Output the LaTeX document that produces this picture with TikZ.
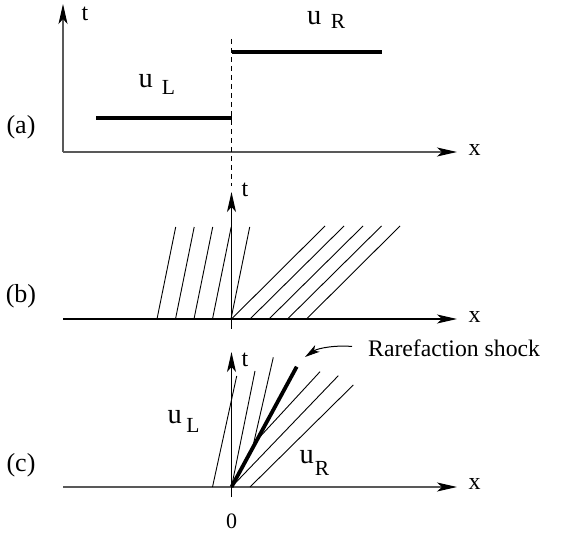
\documentclass[tikz,border=0pt]{standalone}
\usepackage{fontspec}
\setmainfont{Liberation Serif}
\usetikzlibrary{arrows.meta}
\newcommand{\ufnt}{\fontsize{28.5}{30}\selectfont}
\newcommand{\subfnt}{\fontsize{21.5}{23}\selectfont}
\newcommand{\labfnt}{\fontsize{26}{28}\selectfont}
\newcommand{\axfnt}{\fontsize{24}{26}\selectfont}
\begin{document}
\begin{tikzpicture}[x=1pt,y=-1pt,
  axis/.style={line width=1.2pt,-{Stealth[length=20pt,width=9pt,inset=5pt]}},
  grayaxis/.style={line width=1.2pt,draw=black!65,-{Stealth[length=20pt,width=9pt,inset=5pt,color=black]}},
  thickstate/.style={line width=4pt},
  charline/.style={line width=0.9pt},
  shockline/.style={line width=3.8pt},
  panellab/.style={inner sep=0pt,font=\labfnt},
  axlab/.style={inner sep=0pt,font=\axfnt},
  ulab/.style={inner sep=0pt,anchor=base west}]
\useasboundingbox (0,0) rectangle (570,534);
% ---------- panel (a)
\coordinate (oa) at (63,152);
\coordinate (ta) at (63,4);
\coordinate (xa) at (457,152);
\draw[grayaxis] (oa) -- (ta);
\draw[grayaxis] (oa) -- (xa);
\node[axlab] (tlaba) at (85,14) {t};
\node[axlab] (xlaba) at (474.5,150) {x};
\coordinate (dtop) at (231,39);
\coordinate (dbot) at (231,186);
\draw[line width=0.9pt,dash pattern=on 5pt off 4pt] (dtop) -- (dbot);
\coordinate (ul1) at (96,118);
\coordinate (ul2) at (231.5,118);
\coordinate (ur1) at (231.5,52);
\coordinate (ur2) at (381.5,52);
\draw[thickstate] (ul1) -- (ul2);
\draw[thickstate] (ur1) -- (ur2);
\node[ulab] (uRa) at (307,25) {\ufnt u\hspace{9.5pt}\raisebox{-4pt}{\subfnt R}};
\node[ulab] (uLa) at (138.5,87.3) {\ufnt u\hspace{9pt}\raisebox{-7.5pt}{\subfnt L}};
\node[panellab] (pa) at (21,127) {(a)};
% ---------- panel (b)
\coordinate (ob) at (231.5,319);
\coordinate (bl) at (63,319);
\coordinate (xb) at (457,319);
\coordinate (tb) at (231.5,192);
\coordinate (tbb) at (231.5,329);
\draw[axis] (bl) -- (xb);
\draw[axis] (tbb) -- (tb);
\node[axlab] (tlabb) at (245,190) {t};
\node[axlab] (xlabb) at (474.5,317) {x};
\foreach \xb in {157,175.5,194,212.5,231}
  \draw[charline] (\xb,319) -- ({\xb+18.7},227);
\foreach \xb/\xt in {231.5/325,250/344,269/363,287.5/381.5,306.5/400}
  \draw[charline] (\xb,319) -- (\xt,226);
\node[panellab] (pb) at (21,296) {(b)};
% ---------- panel (c)
\coordinate (oc) at (231.5,487);
\coordinate (cl) at (63,487);
\coordinate (xc) at (457,487);
\coordinate (tc) at (231.5,352);
\coordinate (tcb) at (231.5,497);
\draw[grayaxis] (cl) -- (xc);
\draw[axis] (tcb) -- (tc);
\node[axlab] (tlabc) at (245,360) {t};
\node[axlab] (xlabc) at (474.5,484) {x};
\coordinate (c1a) at (212.5,487); \coordinate (c1b) at (236.7,376);
\coordinate (c2b) at (255,371);
\coordinate (c3a) at (253,446); \coordinate (c3b) at (273.3,357.3);
\coordinate (shk) at (296.7,366.7);
\coordinate (c4a) at (257,440); \coordinate (c4b) at (320,371.7);
\coordinate (c5b) at (338.3,375.7);
\coordinate (c6a) at (250,487); \coordinate (c6b) at (353.3,385);
\draw[charline] (c1a) -- (c1b);
\draw[charline] (oc) -- (c2b);
\draw[charline] (c3a) -- (c3b);
\draw[charline] (c4a) -- (c4b);
\draw[charline] (oc) -- (c5b);
\draw[charline] (c6a) -- (c6b);
\draw[shockline] (oc) -- (shk);
\node[ulab] (uLc) at (167.5,423) {\ufnt u\hspace{4.5pt}\raisebox{-9pt}{\subfnt L}};
\node[ulab] (uRc) at (299.5,463) {\ufnt u\hspace{1pt}\raisebox{-12pt}{\subfnt R}};
\node[inner sep=0pt,anchor=base west,font=\fontsize{23.7}{26}\selectfont] (rs) at (368,356) {Rarefaction shock};
\coordinate (arrs) at (352,346.5);
\coordinate (arre) at (305,357);
\draw[line width=1pt,-{Stealth[length=15pt,width=8pt,inset=4pt]}] (arrs) .. controls (336,345) and (318,348) .. (arre);
\node[panellab] (pc) at (21,465) {(c)};
\node[inner sep=0pt,font=\fontsize{22}{24}\selectfont] (zero) at (231.5,521) {0};
\end{tikzpicture}
\end{document}
